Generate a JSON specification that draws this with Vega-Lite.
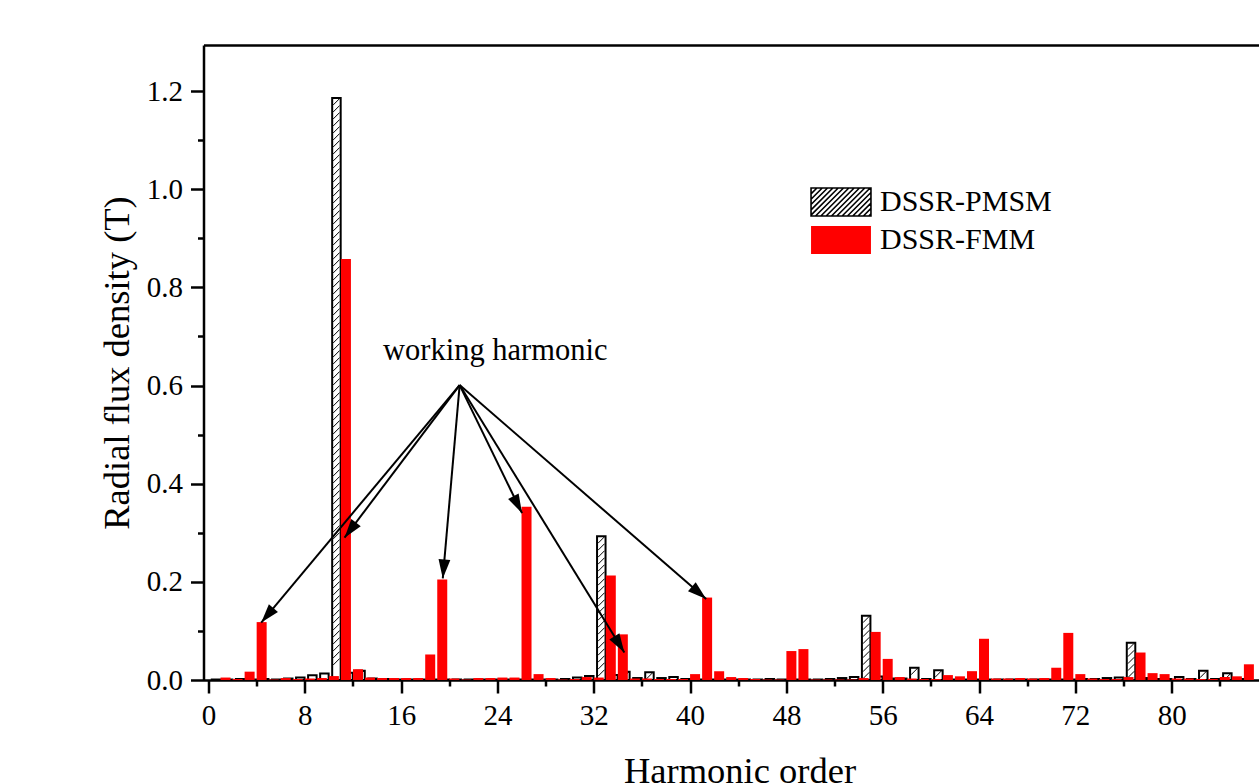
{
  "$schema": "https://vega.github.io/schema/vega-lite/v6.json",
  "autosize": {"type": "none"},
  "padding": {"left": 203.5, "top": 45, "right": 0, "bottom": 104},
  "width": 1055.5,
  "height": 635,
  "background": "white",
  "config": {
    "view": {"stroke": null},
    "font": "Liberation Serif",
    "axis": {"grid": false, "labelFont": "Liberation Serif", "titleFont": "Liberation Serif", "labelColor": "black", "titleColor": "black", "tickColor": "black", "domainColor": "black", "titleFontWeight": "normal", "labelFlush": false, "labelOverlap": false}
  },
  "datasets": {
    "harm": [
      {"n":1,"series":"DSSR-PMSM","value":0.001},{"n":2,"series":"DSSR-PMSM","value":0.001},{"n":3,"series":"DSSR-PMSM","value":0.002},{"n":4,"series":"DSSR-PMSM","value":0.001},{"n":5,"series":"DSSR-PMSM","value":0.002},{"n":6,"series":"DSSR-PMSM","value":0.001},{"n":7,"series":"DSSR-PMSM","value":0.003},{"n":8,"series":"DSSR-PMSM","value":0.005},{"n":9,"series":"DSSR-PMSM","value":0.0095},{"n":10,"series":"DSSR-PMSM","value":0.013},
      {"n":11,"series":"DSSR-PMSM","value":1.186},{"n":12,"series":"DSSR-PMSM","value":0.015},{"n":13,"series":"DSSR-PMSM","value":0.019},{"n":14,"series":"DSSR-PMSM","value":0.003},{"n":15,"series":"DSSR-PMSM","value":0.002},{"n":16,"series":"DSSR-PMSM","value":0.001},{"n":17,"series":"DSSR-PMSM","value":0.001},{"n":18,"series":"DSSR-PMSM","value":0.001},{"n":19,"series":"DSSR-PMSM","value":0.001},{"n":20,"series":"DSSR-PMSM","value":0.001},
      {"n":21,"series":"DSSR-PMSM","value":0.001},{"n":22,"series":"DSSR-PMSM","value":0.001},{"n":23,"series":"DSSR-PMSM","value":0.001},{"n":24,"series":"DSSR-PMSM","value":0.001},{"n":25,"series":"DSSR-PMSM","value":0.001},{"n":26,"series":"DSSR-PMSM","value":0.001},{"n":27,"series":"DSSR-PMSM","value":0.001},{"n":28,"series":"DSSR-PMSM","value":0.001},{"n":29,"series":"DSSR-PMSM","value":0.001},{"n":30,"series":"DSSR-PMSM","value":0.002},
      {"n":31,"series":"DSSR-PMSM","value":0.005},{"n":32,"series":"DSSR-PMSM","value":0.008},{"n":33,"series":"DSSR-PMSM","value":0.293},{"n":34,"series":"DSSR-PMSM","value":0.01},{"n":35,"series":"DSSR-PMSM","value":0.017},{"n":36,"series":"DSSR-PMSM","value":0.004},{"n":37,"series":"DSSR-PMSM","value":0.016},{"n":38,"series":"DSSR-PMSM","value":0.004},{"n":39,"series":"DSSR-PMSM","value":0.006},{"n":40,"series":"DSSR-PMSM","value":0.002},
      {"n":41,"series":"DSSR-PMSM","value":0.001},{"n":42,"series":"DSSR-PMSM","value":0.001},{"n":43,"series":"DSSR-PMSM","value":0.001},{"n":44,"series":"DSSR-PMSM","value":0.001},{"n":45,"series":"DSSR-PMSM","value":0.001},{"n":46,"series":"DSSR-PMSM","value":0.001},{"n":47,"series":"DSSR-PMSM","value":0.002},{"n":48,"series":"DSSR-PMSM","value":0.001},{"n":49,"series":"DSSR-PMSM","value":0.001},{"n":50,"series":"DSSR-PMSM","value":0.001},
      {"n":51,"series":"DSSR-PMSM","value":0.001},{"n":52,"series":"DSSR-PMSM","value":0.002},{"n":53,"series":"DSSR-PMSM","value":0.004},{"n":54,"series":"DSSR-PMSM","value":0.006},{"n":55,"series":"DSSR-PMSM","value":0.131},{"n":56,"series":"DSSR-PMSM","value":0.007},{"n":57,"series":"DSSR-PMSM","value":0.003},{"n":58,"series":"DSSR-PMSM","value":0.003},{"n":59,"series":"DSSR-PMSM","value":0.025},{"n":60,"series":"DSSR-PMSM","value":0.002},
      {"n":61,"series":"DSSR-PMSM","value":0.02},{"n":62,"series":"DSSR-PMSM","value":0.001},{"n":63,"series":"DSSR-PMSM","value":0.001},{"n":64,"series":"DSSR-PMSM","value":0.001},{"n":65,"series":"DSSR-PMSM","value":0.001},{"n":66,"series":"DSSR-PMSM","value":0.001},{"n":67,"series":"DSSR-PMSM","value":0.001},{"n":68,"series":"DSSR-PMSM","value":0.001},{"n":69,"series":"DSSR-PMSM","value":0.001},{"n":70,"series":"DSSR-PMSM","value":0.001},
      {"n":71,"series":"DSSR-PMSM","value":0.001},{"n":72,"series":"DSSR-PMSM","value":0.001},{"n":73,"series":"DSSR-PMSM","value":0.002},{"n":74,"series":"DSSR-PMSM","value":0.002},{"n":75,"series":"DSSR-PMSM","value":0.004},{"n":76,"series":"DSSR-PMSM","value":0.005},{"n":77,"series":"DSSR-PMSM","value":0.076},{"n":78,"series":"DSSR-PMSM","value":0.004},{"n":79,"series":"DSSR-PMSM","value":0.002},{"n":80,"series":"DSSR-PMSM","value":0.002},
      {"n":81,"series":"DSSR-PMSM","value":0.006},{"n":82,"series":"DSSR-PMSM","value":0.002},{"n":83,"series":"DSSR-PMSM","value":0.019},{"n":84,"series":"DSSR-PMSM","value":0.002},{"n":85,"series":"DSSR-PMSM","value":0.014},{"n":86,"series":"DSSR-PMSM","value":0.002},
      {"n":1,"series":"DSSR-FMM","value":0.005},{"n":2,"series":"DSSR-FMM","value":0.002},{"n":3,"series":"DSSR-FMM","value":0.017},{"n":4,"series":"DSSR-FMM","value":0.118},{"n":5,"series":"DSSR-FMM","value":0.001},{"n":6,"series":"DSSR-FMM","value":0.004},{"n":7,"series":"DSSR-FMM","value":0.002},{"n":8,"series":"DSSR-FMM","value":0.003},{"n":9,"series":"DSSR-FMM","value":0.004},{"n":10,"series":"DSSR-FMM","value":0.008},
      {"n":11,"series":"DSSR-FMM","value":0.858},{"n":12,"series":"DSSR-FMM","value":0.022},{"n":13,"series":"DSSR-FMM","value":0.005},{"n":14,"series":"DSSR-FMM","value":0.004},{"n":15,"series":"DSSR-FMM","value":0.004},{"n":16,"series":"DSSR-FMM","value":0.004},{"n":17,"series":"DSSR-FMM","value":0.004},{"n":18,"series":"DSSR-FMM","value":0.052},{"n":19,"series":"DSSR-FMM","value":0.205},{"n":20,"series":"DSSR-FMM","value":0.003},
      {"n":21,"series":"DSSR-FMM","value":0.001},{"n":22,"series":"DSSR-FMM","value":0.004},{"n":23,"series":"DSSR-FMM","value":0.004},{"n":24,"series":"DSSR-FMM","value":0.005},{"n":25,"series":"DSSR-FMM","value":0.005},{"n":26,"series":"DSSR-FMM","value":0.353},{"n":27,"series":"DSSR-FMM","value":0.012},{"n":28,"series":"DSSR-FMM","value":0.004},{"n":29,"series":"DSSR-FMM","value":0.001},{"n":30,"series":"DSSR-FMM","value":0.002},
      {"n":31,"series":"DSSR-FMM","value":0.006},{"n":32,"series":"DSSR-FMM","value":0.005},{"n":33,"series":"DSSR-FMM","value":0.213},{"n":34,"series":"DSSR-FMM","value":0.093},{"n":35,"series":"DSSR-FMM","value":0.003},{"n":36,"series":"DSSR-FMM","value":0.003},{"n":37,"series":"DSSR-FMM","value":0.002},{"n":38,"series":"DSSR-FMM","value":0.002},{"n":39,"series":"DSSR-FMM","value":0.002},{"n":40,"series":"DSSR-FMM","value":0.012},
      {"n":41,"series":"DSSR-FMM","value":0.168},{"n":42,"series":"DSSR-FMM","value":0.018},{"n":43,"series":"DSSR-FMM","value":0.006},{"n":44,"series":"DSSR-FMM","value":0.004},{"n":45,"series":"DSSR-FMM","value":0.002},{"n":46,"series":"DSSR-FMM","value":0.001},{"n":47,"series":"DSSR-FMM","value":0.001},{"n":48,"series":"DSSR-FMM","value":0.059},{"n":49,"series":"DSSR-FMM","value":0.063},{"n":50,"series":"DSSR-FMM","value":0.001},
      {"n":51,"series":"DSSR-FMM","value":0.001},{"n":52,"series":"DSSR-FMM","value":0.001},{"n":53,"series":"DSSR-FMM","value":0.001},{"n":54,"series":"DSSR-FMM","value":0.004},{"n":55,"series":"DSSR-FMM","value":0.098},{"n":56,"series":"DSSR-FMM","value":0.043},{"n":57,"series":"DSSR-FMM","value":0.006},{"n":58,"series":"DSSR-FMM","value":0.003},{"n":59,"series":"DSSR-FMM","value":0.002},{"n":60,"series":"DSSR-FMM","value":0.002},
      {"n":61,"series":"DSSR-FMM","value":0.01},{"n":62,"series":"DSSR-FMM","value":0.0075},{"n":63,"series":"DSSR-FMM","value":0.018},{"n":64,"series":"DSSR-FMM","value":0.084},{"n":65,"series":"DSSR-FMM","value":0.003},{"n":66,"series":"DSSR-FMM","value":0.003},{"n":67,"series":"DSSR-FMM","value":0.004},{"n":68,"series":"DSSR-FMM","value":0.003},{"n":69,"series":"DSSR-FMM","value":0.004},{"n":70,"series":"DSSR-FMM","value":0.025},
      {"n":71,"series":"DSSR-FMM","value":0.096},{"n":72,"series":"DSSR-FMM","value":0.012},{"n":73,"series":"DSSR-FMM","value":0.003},{"n":74,"series":"DSSR-FMM","value":0.002},{"n":75,"series":"DSSR-FMM","value":0.002},{"n":76,"series":"DSSR-FMM","value":0.006},{"n":77,"series":"DSSR-FMM","value":0.056},{"n":78,"series":"DSSR-FMM","value":0.014},{"n":79,"series":"DSSR-FMM","value":0.012},{"n":80,"series":"DSSR-FMM","value":0.003},
      {"n":81,"series":"DSSR-FMM","value":0.003},{"n":82,"series":"DSSR-FMM","value":0.002},{"n":83,"series":"DSSR-FMM","value":0.002},{"n":84,"series":"DSSR-FMM","value":0.006},{"n":85,"series":"DSSR-FMM","value":0.0075},{"n":86,"series":"DSSR-FMM","value":0.032}
    ],
    "arrows": [
      {"target":"h4","x0":20.86,"y0":0.601,"x1":4.38,"y1":0.117},
      {"target":"h11","x0":20.86,"y0":0.601,"x1":11.3,"y1":0.29},
      {"target":"h19","x0":20.86,"y0":0.601,"x1":19.46,"y1":0.207},
      {"target":"h26","x0":20.86,"y0":0.601,"x1":26.04,"y1":0.34},
      {"target":"h34","x0":20.86,"y0":0.601,"x1":34.54,"y1":0.056},
      {"target":"h41","x0":20.86,"y0":0.601,"x1":41.34,"y1":0.165}
    ],
    "note": [{"x":23.82,"y":0.652,"label":"working harmonic"}]
  },
  "layer": [
    {
      "data": {"name": "harm"},
      "transform": [{"filter": "datum.series === 'DSSR-PMSM'"}],
      "mark": {"type": "bar", "width": 8.5, "xOffset": -4.5, "fill": "white", "stroke": "black", "strokeWidth": 2},
      "encoding": {
        "x": {"field": "n", "type": "quantitative", "scale": {"domain": [0, 86.84], "nice": false, "zero": false},
          "axis": {"orient": "bottom", "values": [0,8,16,24,32,40,48,56,64,72,80], "tickSize": 13, "tickWidth": 2.5, "domainWidth": 2.5, "labelFontSize": 29, "labelPadding": 8, "title": "Harmonic order", "titleFontSize": 36.5, "titlePadding": 23, "titleX": 536}},
        "y": {"field": "value", "type": "quantitative", "scale": {"domain": [0, 1.294], "nice": false},
          "axis": {"orient": "left", "values": [0,0.2,0.4,0.6,0.8,1.0,1.2], "format": ".1f", "tickSize": 13, "tickWidth": 2.5, "domainWidth": 2.5, "labelFontSize": 29, "labelPadding": 8, "title": "Radial flux density (T)", "titleFontSize": 36.5, "titlePadding": 10}}
      }
    },
    {
      "data": {"name": "harm"},
      "transform": [{"filter": "datum.series === 'DSSR-PMSM' && datum.n === 11"}],
      "mark": {"type": "point", "size": 4, "filled": false, "stroke": "black", "strokeWidth": 1, "opacity": 1,
        "shape": "M-7.75,7l6.5,-6.5m-6.5,13.5l6.5,-6.5m-6.5,13.5l6.5,-6.5m-6.5,13.5l6.5,-6.5m-6.5,13.5l6.5,-6.5m-6.5,13.5l6.5,-6.5m-6.5,13.5l6.5,-6.5m-6.5,13.5l6.5,-6.5m-6.5,13.5l6.5,-6.5m-6.5,13.5l6.5,-6.5m-6.5,13.5l6.5,-6.5m-6.5,13.5l6.5,-6.5m-6.5,13.5l6.5,-6.5m-6.5,13.5l6.5,-6.5m-6.5,13.5l6.5,-6.5m-6.5,13.5l6.5,-6.5m-6.5,13.5l6.5,-6.5m-6.5,13.5l6.5,-6.5m-6.5,13.5l6.5,-6.5m-6.5,13.5l6.5,-6.5m-6.5,13.5l6.5,-6.5m-6.5,13.5l6.5,-6.5m-6.5,13.5l6.5,-6.5m-6.5,13.5l6.5,-6.5m-6.5,13.5l6.5,-6.5m-6.5,13.5l6.5,-6.5m-6.5,13.5l6.5,-6.5m-6.5,13.5l6.5,-6.5m-6.5,13.5l6.5,-6.5m-6.5,13.5l6.5,-6.5m-6.5,13.5l6.5,-6.5m-6.5,13.5l6.5,-6.5m-6.5,13.5l6.5,-6.5m-6.5,13.5l6.5,-6.5m-6.5,13.5l6.5,-6.5m-6.5,13.5l6.5,-6.5m-6.5,13.5l6.5,-6.5m-6.5,13.5l6.5,-6.5m-6.5,13.5l6.5,-6.5m-6.5,13.5l6.5,-6.5m-6.5,13.5l6.5,-6.5m-6.5,13.5l6.5,-6.5m-6.5,13.5l6.5,-6.5m-6.5,13.5l6.5,-6.5m-6.5,13.5l6.5,-6.5m-6.5,13.5l6.5,-6.5m-6.5,13.5l6.5,-6.5m-6.5,13.5l6.5,-6.5m-6.5,13.5l6.5,-6.5m-6.5,13.5l6.5,-6.5m-6.5,13.5l6.5,-6.5m-6.5,13.5l6.5,-6.5m-6.5,13.5l6.5,-6.5m-6.5,13.5l6.5,-6.5m-6.5,13.5l6.5,-6.5m-6.5,13.5l6.5,-6.5m-6.5,13.5l6.5,-6.5m-6.5,13.5l6.5,-6.5m-6.5,13.5l6.5,-6.5m-6.5,13.5l6.5,-6.5m-6.5,13.5l6.5,-6.5m-6.5,13.5l6.5,-6.5m-6.5,13.5l6.5,-6.5m-6.5,13.5l6.5,-6.5m-6.5,13.5l6.5,-6.5m-6.5,13.5l6.5,-6.5m-6.5,13.5l6.5,-6.5m-6.5,13.5l6.5,-6.5m-6.5,13.5l6.5,-6.5m-6.5,13.5l6.5,-6.5m-6.5,13.5l6.5,-6.5m-6.5,13.5l6.5,-6.5m-6.5,13.5l6.5,-6.5m-6.5,13.5l6.5,-6.5m-6.5,13.5l6.5,-6.5m-6.5,13.5l6.5,-6.5m-6.5,13.5l6.5,-6.5m-6.5,13.5l6.5,-6.5m-6.5,13.5l6.5,-6.5m-6.5,13.5l6.5,-6.5m-6.5,13.5l6.5,-6.5"},
      "encoding": {
        "x": {"field": "n", "type": "quantitative", "scale": {"domain": [0, 86.84], "nice": false, "zero": false},
          "axis": {"orient": "bottom", "values": [4,12,20,28,36,44,52,60,68,76,84], "labels": false, "domain": false, "tickSize": 6, "tickWidth": 2.5, "title": null}},
        "y": {"field": "value", "type": "quantitative", "scale": {"domain": [0, 1.294], "nice": false},
          "axis": {"orient": "left", "values": [0.1,0.3,0.5,0.7,0.9,1.1], "labels": false, "domain": false, "tickSize": 6, "tickWidth": 2.5, "title": null}}
      }
    },
    {
      "data": {"name": "harm"},
      "transform": [{"filter": "datum.series === 'DSSR-PMSM' && datum.n === 33"}],
      "mark": {"type": "point", "size": 4, "filled": false, "stroke": "black", "strokeWidth": 1, "opacity": 1,
        "shape": "M-7.75,7l6.5,-6.5m-6.5,13.5l6.5,-6.5m-6.5,13.5l6.5,-6.5m-6.5,13.5l6.5,-6.5m-6.5,13.5l6.5,-6.5m-6.5,13.5l6.5,-6.5m-6.5,13.5l6.5,-6.5m-6.5,13.5l6.5,-6.5m-6.5,13.5l6.5,-6.5m-6.5,13.5l6.5,-6.5m-6.5,13.5l6.5,-6.5m-6.5,13.5l6.5,-6.5m-6.5,13.5l6.5,-6.5m-6.5,13.5l6.5,-6.5m-6.5,13.5l6.5,-6.5m-6.5,13.5l6.5,-6.5m-6.5,13.5l6.5,-6.5m-6.5,13.5l6.5,-6.5m-6.5,13.5l6.5,-6.5m-6.5,13.5l6.5,-6.5"},
      "encoding": {
        "x": {"field": "n", "type": "quantitative", "scale": {"domain": [0, 86.84], "nice": false, "zero": false}, "axis": null},
        "y": {"field": "value", "type": "quantitative", "scale": {"domain": [0, 1.294], "nice": false}, "axis": null}
      }
    },
    {
      "data": {"name": "harm"},
      "transform": [{"filter": "datum.series === 'DSSR-PMSM' && datum.n === 55"}],
      "mark": {"type": "point", "size": 4, "filled": false, "stroke": "black", "strokeWidth": 1, "opacity": 1,
        "shape": "M-7.75,7l6.5,-6.5m-6.5,13.5l6.5,-6.5m-6.5,13.5l6.5,-6.5m-6.5,13.5l6.5,-6.5m-6.5,13.5l6.5,-6.5m-6.5,13.5l6.5,-6.5m-6.5,13.5l6.5,-6.5m-6.5,13.5l6.5,-6.5m-6.5,13.5l6.5,-6.5"},
      "encoding": {
        "x": {"field": "n", "type": "quantitative", "scale": {"domain": [0, 86.84], "nice": false, "zero": false}, "axis": null},
        "y": {"field": "value", "type": "quantitative", "scale": {"domain": [0, 1.294], "nice": false}, "axis": null}
      }
    },
    {
      "data": {"name": "harm"},
      "transform": [{"filter": "datum.series === 'DSSR-PMSM' && datum.n === 77"}],
      "mark": {"type": "point", "size": 4, "filled": false, "stroke": "black", "strokeWidth": 1, "opacity": 1,
        "shape": "M-7.75,7l6.5,-6.5m-6.5,13.5l6.5,-6.5m-6.5,13.5l6.5,-6.5m-6.5,13.5l6.5,-6.5m-6.5,13.5l6.5,-6.5"},
      "encoding": {
        "x": {"field": "n", "type": "quantitative", "scale": {"domain": [0, 86.84], "nice": false, "zero": false}, "axis": null},
        "y": {"field": "value", "type": "quantitative", "scale": {"domain": [0, 1.294], "nice": false}, "axis": null}
      }
    },
    {
      "data": {"name": "harm"},
      "transform": [{"filter": "datum.series === 'DSSR-PMSM'"}, {"filter": {"field": "n", "oneOf": [13, 35, 37, 59, 61, 83, 85]}}],
      "mark": {"type": "point", "size": 4, "filled": false, "stroke": "black", "strokeWidth": 1, "opacity": 1, "shape": "M-7.75,7l6.5,-6.5"},
      "encoding": {
        "x": {"field": "n", "type": "quantitative", "scale": {"domain": [0, 86.84], "nice": false, "zero": false}, "axis": null},
        "y": {"field": "value", "type": "quantitative", "scale": {"domain": [0, 1.294], "nice": false}, "axis": null}
      }
    },
    {
      "data": {"name": "harm"},
      "transform": [{"filter": "datum.series === 'DSSR-FMM'"}],
      "mark": {"type": "bar", "width": 10, "xOffset": 5, "fill": "#ff0000"},
      "encoding": {
        "x": {"field": "n", "type": "quantitative", "scale": {"domain": [0, 86.84], "nice": false, "zero": false},
          "axis": {"orient": "top", "labels": false, "ticks": false, "domain": true, "domainWidth": 2.5, "title": null}},
        "y": {"field": "value", "type": "quantitative", "scale": {"domain": [0, 1.294], "nice": false}, "axis": null}
      }
    },
    {
      "data": {"name": "harm"},
      "transform": [{"filter": "datum.n < 0"}],
      "mark": {"type": "point", "filled": true},
      "encoding": {
        "x": {"field": "n", "type": "quantitative", "scale": {"domain": [0, 86.84], "nice": false, "zero": false}, "axis": null},
        "y": {"field": "value", "type": "quantitative", "scale": {"domain": [0, 1.294], "nice": false}, "axis": null},
        "fill": {"field": "series", "type": "nominal", "scale": {"domain": ["DSSR-PMSM", "DSSR-FMM"], "range": ["white", "#ff0000"]},
          "legend": {"title": null, "orient": "none", "legendX": 622.5, "legendY": 142, "padding": 0, "symbolSize": 784, "symbolStrokeWidth": 1.6, "symbolOpacity": 1, "labelFontSize": 30, "labelFont": "Liberation Serif", "labelColor": "black", "labelOffset": 24, "labelLimit": 400, "rowPadding": 2}},
        "stroke": {"field": "series", "type": "nominal", "scale": {"domain": ["DSSR-PMSM", "DSSR-FMM"], "range": ["black", "transparent"]},
          "legend": {"title": null, "orient": "none", "legendX": 622.5, "legendY": 142, "padding": 0, "symbolSize": 784, "symbolStrokeWidth": 1.6, "symbolOpacity": 1, "labelFontSize": 30, "labelFont": "Liberation Serif", "labelColor": "black", "labelOffset": 24, "labelLimit": 400, "rowPadding": 2}},
        "shape": {"field": "series", "type": "nominal", "scale": {"domain": ["DSSR-PMSM", "DSSR-FMM"], "range": [
            "M-2.14,-1H2.14V1H-2.14Z M-2.14,-0.58L-1.72,-1 M-2.14,-0.2L-1.34,-1 M-2.14,0.18L-0.96,-1 M-2.14,0.56L-0.58,-1 M-2.14,0.94L-0.2,-1 M-1.82,1L0.18,-1 M-1.44,1L0.56,-1 M-1.06,1L0.94,-1 M-0.68,1L1.32,-1 M-0.3,1L1.7,-1 M0.08,1L2.08,-1 M0.46,1L2.14,-0.68 M0.84,1L2.14,-0.3 M1.22,1L2.14,0.08 M1.6,1L2.14,0.46 M1.98,1L2.14,0.84",
            "M-2.14,-1H2.14V1H-2.14Z"]},
          "legend": {"title": null, "orient": "none", "legendX": 622.5, "legendY": 142, "padding": 0, "symbolSize": 784, "symbolStrokeWidth": 1.6, "symbolOpacity": 1, "labelFontSize": 30, "labelFont": "Liberation Serif", "labelColor": "black", "labelOffset": 24, "labelLimit": 400, "rowPadding": 2}}
      }
    },
    {
      "data": {"name": "arrows"},
      "mark": {"type": "rule", "strokeWidth": 2, "color": "black"},
      "encoding": {
        "x": {"field": "x0", "type": "quantitative", "scale": {"domain": [0, 86.84], "nice": false, "zero": false}, "axis": null},
        "y": {"field": "y0", "type": "quantitative", "scale": {"domain": [0, 1.294], "nice": false}, "axis": null},
        "x2": {"field": "x1"},
        "y2": {"field": "y1"}
      }
    },
    {
      "data": {"name": "arrows"},
      "mark": {"type": "point", "shape": "M0,0L-0.5,1.6L0.5,1.6Z", "size": 560, "filled": true, "color": "black", "opacity": 1, "strokeWidth": 0},
      "encoding": {
        "x": {"field": "x1", "type": "quantitative", "scale": {"domain": [0, 86.84], "nice": false, "zero": false}, "axis": null},
        "y": {"field": "y1", "type": "quantitative", "scale": {"domain": [0, 1.294], "nice": false}, "axis": null},
        "angle": {"field": "target", "type": "nominal", "scale": {"type": "ordinal", "domain": ["h4","h11","h19","h26","h34","h41"], "range": [220.1, 217.4, 185.0, 152.9, 148.2, 130.7]}, "legend": null}
      }
    },
    {
      "data": {"name": "note"},
      "mark": {"type": "text", "fontSize": 30.5, "font": "Liberation Serif", "align": "center", "baseline": "alphabetic", "color": "black"},
      "encoding": {
        "x": {"field": "x", "type": "quantitative", "scale": {"domain": [0, 86.84], "nice": false, "zero": false}, "axis": null},
        "y": {"field": "y", "type": "quantitative", "scale": {"domain": [0, 1.294], "nice": false}, "axis": null},
        "text": {"field": "label"}
      }
    }
  ],
  "resolve": {"axis": {"x": "independent", "y": "independent"}}
}
